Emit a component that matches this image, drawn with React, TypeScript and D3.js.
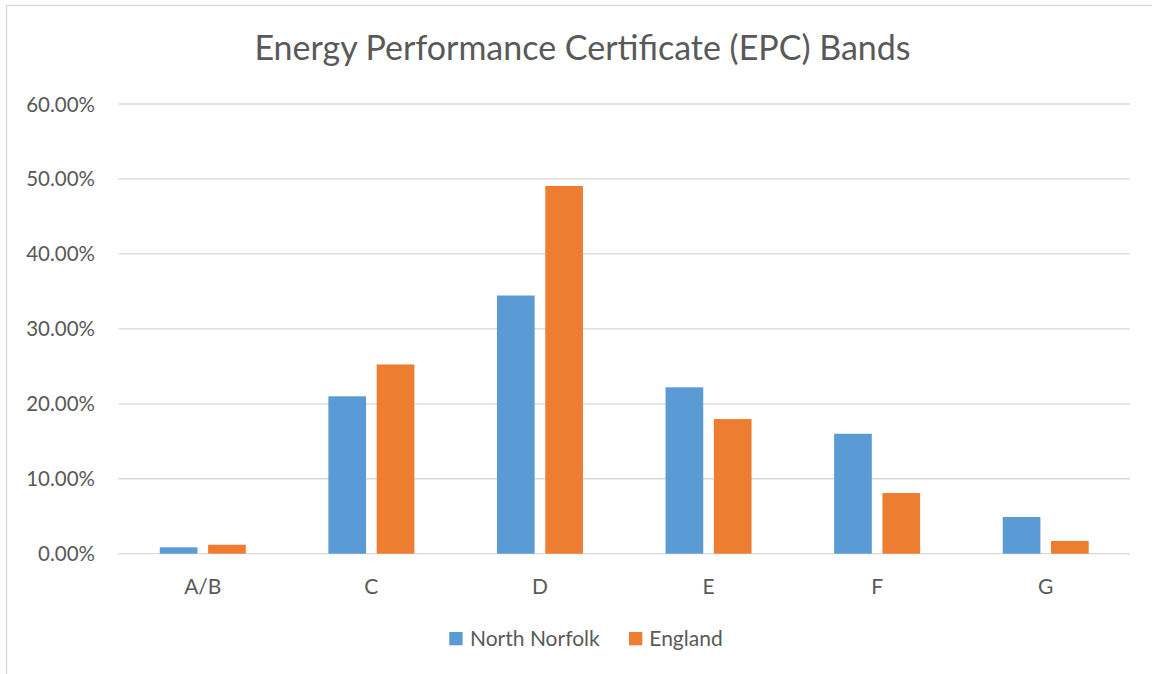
import React from "react";
import * as d3 from "d3";

const categories = ["A/B", "C", "D", "E", "F", "G"];
const seriesNames = ["North Norfolk", "England"];
const northNorfolk = [0.0085, 0.21, 0.3445, 0.222, 0.16, 0.049];
const england = [0.012, 0.2525, 0.4907, 0.1796, 0.081, 0.017];
const yTicks = [0, 0.1, 0.2, 0.3, 0.4, 0.5, 0.6];
const colors = ["#5B9BD5", "#ED7D31"];
const title = "Energy Performance Certificate (EPC) Bands";

const W = 1152;
const H = 674;
const FONT = "Lato, 'Open Sans', sans-serif";
const TEXT = "#595959";

export default function App() {
  const x = d3.scaleBand<string>().domain(categories).range([118.5, 1130]);
  const y = d3.scaleLinear().domain([0, 0.6]).range([553.7, 104]);
  const groupW = 86;
  const inner = d3
    .scaleBand<string>()
    .domain(seriesNames)
    .range([0, groupW])
    .paddingInner(0.22);
  const data = [northNorfolk, england];
  const fmt = d3.format(".2%");

  const legendItems = [
    { name: seriesNames[0], sx: 449.3, tx: 470 },
    { name: seriesNames[1], sx: 629, tx: 649.3 },
  ];

  return (
    <svg
      width={W}
      height={H}
      style={{ position: "absolute", left: 0, top: 0, display: "block", background: "#fff" }}
    >
      <rect x={0} y={0} width={W} height={H} fill="#fff" />
      <rect x={6.5} y={5.5} width={1300} height={800} fill="none" stroke="#D9D9D9" strokeWidth={1.3} />
      <text
        x={582.5}
        y={59.5}
        textAnchor="middle"
        fontFamily={FONT}
        fontSize={34}
        fill={TEXT}
      >
        {title}
      </text>
      {yTicks.map((t) => (
        <g key={t}>
          <line
            x1={118.5}
            x2={1130}
            y1={y(t)}
            y2={y(t)}
            stroke="#D9D9D9"
            strokeWidth={1.3}
          />
          <text
            x={95}
            y={y(t) + 7.5}
            textAnchor="end"
            fontFamily={FONT}
            fontSize={20.5}
            fill={TEXT}
          >
            {fmt(t)}
          </text>
        </g>
      ))}
      {categories.map((c, i) => {
        const cx = (x(c) as number) + x.bandwidth() / 2;
        return (
          <g key={c}>
            {seriesNames.map((s, j) => {
              const v = data[j][i];
              const bx = cx - groupW / 2 + (inner(s) as number);
              return (
                <rect
                  key={s}
                  x={bx}
                  y={y(v)}
                  width={inner.bandwidth()}
                  height={y(0) - y(v)}
                  fill={colors[j]}
                />
              );
            })}
            <text
              x={cx}
              y={593.5}
              textAnchor="middle"
              fontFamily={FONT}
              fontSize={21}
              fill={TEXT}
            >
              {c}
            </text>
          </g>
        );
      })}
      {legendItems.map((l, j) => (
        <g key={l.name}>
          <rect x={l.sx} y={632} width={13.3} height={13.3} fill={colors[j]} />
          <text x={l.tx} y={645.7} fontFamily={FONT} fontSize={21} fill={TEXT}>
            {l.name}
          </text>
        </g>
      ))}
    </svg>
  );
}
